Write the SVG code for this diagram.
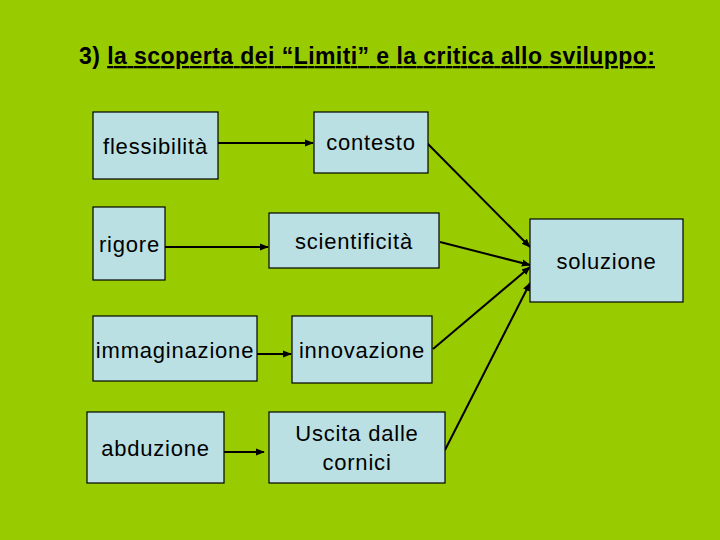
<svg xmlns="http://www.w3.org/2000/svg" width="720" height="540" viewBox="0 0 720 540">
<style>
.box{fill:#BBE0E3;stroke:#000;stroke-width:1.2}
.t{font-family:"Liberation Sans",Arial,sans-serif;font-size:22px;fill:#000;text-anchor:middle;letter-spacing:0.8px}
.c{stroke:#000;stroke-width:2;fill:none;marker-end:url(#ah)}
</style>
<defs>
<marker id="ah" viewBox="0 0 10 10" refX="9" refY="5" markerWidth="4.5" markerHeight="4.5" orient="auto" markerUnits="strokeWidth">
<path d="M0,1 L10,5 L0,9 z" fill="#000"/>
</marker>
</defs>
<rect width="720" height="540" fill="#99CC00"/>
<text x="79" y="64" font-family="Liberation Sans,Arial,sans-serif" font-size="23" font-weight="bold" fill="#000" textLength="576" lengthAdjust="spacing">3) <tspan text-decoration="underline">la scoperta dei “Limiti” e la critica allo sviluppo:</tspan></text>
<g id="connectors">
<line class="c" x1="218" y1="143" x2="313" y2="143"/>
<line class="c" x1="165" y1="247" x2="268" y2="247"/>
<line class="c" x1="257" y1="354" x2="291" y2="354"/>
<line class="c" x1="224" y1="452" x2="264" y2="452"/>
<line class="c" x1="423" y1="139" x2="530" y2="247"/>
<line class="c" x1="440" y1="242" x2="530" y2="265"/>
<line class="c" x1="433" y1="349" x2="530" y2="267"/>
<line class="c" x1="445" y1="450" x2="530" y2="283"/>
</g>
<g id="flessibilita"><rect class="box" x="93" y="112" width="125" height="67"/><text class="t" x="155.5" y="154">flessibilità</text></g>
<g id="contesto"><rect class="box" x="314" y="112" width="114" height="61"/><text class="t" x="371" y="150">contesto</text></g>
<g id="rigore"><rect class="box" x="93" y="207" width="72" height="73"/><text class="t" x="129.5" y="252">rigore</text></g>
<g id="scientificita"><rect class="box" x="269" y="213" width="170" height="55"/><text class="t" x="354" y="249">scientificità</text></g>
<g id="immaginazione"><rect class="box" x="93" y="316" width="164" height="65"/><text class="t" x="175" y="358">immaginazione</text></g>
<g id="innovazione"><rect class="box" x="292" y="316" width="140" height="67"/><text class="t" x="362" y="358">innovazione</text></g>
<g id="abduzione"><rect class="box" x="87" y="412" width="137" height="71"/><text class="t" x="155.5" y="456">abduzione</text></g>
<g id="uscita"><rect class="box" x="269" y="412" width="176" height="71"/><text class="t" x="357" y="441">Uscita dalle</text><text class="t" x="357" y="470">cornici</text></g>
<g id="soluzione"><rect class="box" x="530" y="219" width="153" height="83"/><text class="t" x="606.5" y="269">soluzione</text></g>
</svg>
